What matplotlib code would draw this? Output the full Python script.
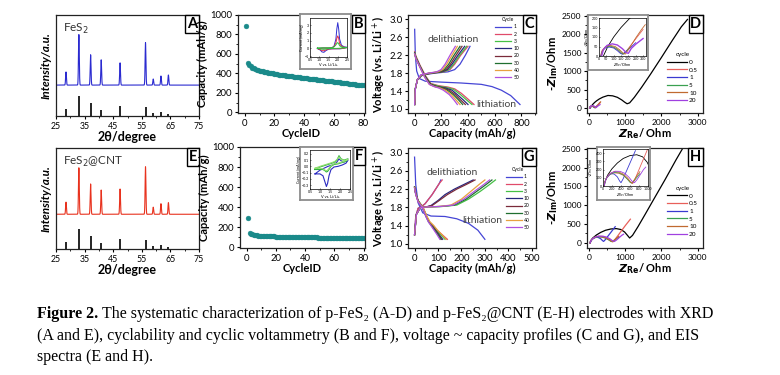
import numpy as np
import matplotlib
matplotlib.use("Agg")
import matplotlib.pyplot as plt
from matplotlib.ticker import MultipleLocator

# ---------------- data ----------------
# XRD (A, E): peak positions (2theta), relative heights (% of axes height)
xrd_peaks = [28.5, 33.0, 37.1, 40.8, 47.4, 56.3, 59.0, 61.7, 64.3]
fes2_int = [13, 50, 30, 25, 22, 42, 6, 9, 10]
cnt_int = [12, 46, 30, 24, 25, 47, 7, 10.5, 11.5]
ref_int = [7, 20, 13, 5.5, 10, 9.3, 2.8, 3.8, 2.0]
fes2_base = 30.6
cnt_base = 34.4
xrd_ticks = [25, 35, 45, 55, 65, 75]

# Cycling (B, F)
b_cap = [885, 505, 488, 472, 458, 450, 443, 437, 432, 428,
         424, 420, 417, 414, 411, 408, 405, 402, 399, 396,
         393, 391, 388, 386, 384, 381, 379, 377, 375, 372,
         370, 368, 366, 364, 362, 360, 358, 356, 354, 352,
         350, 348, 346, 345, 343, 341, 339, 337, 335, 333,
         331, 329, 328, 326, 324, 322, 320, 319, 317, 315,
         313, 311, 309, 307, 305, 303, 301, 299, 297, 295,
         293, 291, 289, 287, 285, 283, 281, 279, 277, 275]
f_cap = [290, 140, 132, 127, 123, 120, 118, 116, 114, 113,
         112, 111, 110, 109, 109, 108, 108, 107, 107, 106,
         106, 105, 105, 105, 104, 104, 104, 103, 103, 103,
         102, 102, 102, 101, 101, 101, 100, 100, 100, 99,
         99, 99, 98, 98, 98, 97, 97, 97, 96, 96,
         96, 95, 95, 95, 94, 94, 94, 93, 93, 93,
         92, 92, 92, 91, 91, 91, 90, 90, 90, 90,
         89, 89, 89, 89, 88, 88, 88, 88, 87, 87]
cycle_ids = list(range(1, 81))

# CV insets (B, F): voltage, current
b_cv_v = [0.9, 1.2, 1.5, 1.7, 1.8, 1.9, 1.95, 2.0, 2.05, 2.1, 2.2, 2.35, 2.5,
          2.3, 2.1, 1.9, 1.7, 1.5, 1.35, 1.25, 1.15, 1.05, 0.95, 0.9]
b_cv_i = [[0.0, 0.05, 0.05, 0.1, 0.3, 1.2, 2.5, 3.3, 2.5, 1.2, 0.4, 0.2, 0.15,
           0.0, -0.05, -0.05, -0.05, -0.1, -0.3, -0.5, -0.45, -0.2, -0.1, 0.0],
          [0.0, 0.05, 0.05, 0.1, 0.25, 0.7, 1.3, 1.6, 1.3, 0.6, 0.3, 0.15, 0.12,
           0.0, -0.03, -0.04, -0.05, -0.08, -0.2, -0.3, -0.28, -0.15, -0.08, 0.0],
          [0.05, 0.08, 0.08, 0.1, 0.2, 0.45, 0.65, 0.75, 0.6, 0.35, 0.2, 0.12, 0.1,
           0.05, 0.02, 0.0, 0.0, -0.02, -0.08, -0.12, -0.1, -0.05, 0.0, 0.05]]
b_cv_colors = ["#2f2fd0", "#e0304a", "#30c040"]

f_cv_v = [0.75, 1.0, 1.2, 1.4, 1.6, 1.75, 1.85, 1.95, 2.05, 2.2, 2.3, 2.4,
          2.3, 2.1, 1.9, 1.7, 1.55, 1.45, 1.38, 1.32, 1.25, 1.15, 1.0, 0.75]
f_cv_i = [[-0.12, -0.06, -0.03, 0.0, 0.02, 0.04, 0.07, 0.12, 0.09, 0.07, 0.08, 0.1,
           0.05, 0.02, 0.0, -0.01, -0.05, -0.15, -0.27, -0.32, -0.25, -0.15, -0.12, -0.12],
          [-0.05, -0.01, 0.01, 0.03, 0.05, 0.07, 0.1, 0.17, 0.12, 0.1, 0.11, 0.12,
           0.08, 0.06, 0.04, 0.03, 0.0, -0.05, -0.08, -0.09, -0.07, -0.05, -0.05, -0.05],
          [-0.03, 0.0, 0.02, 0.04, 0.06, 0.08, 0.11, 0.15, 0.11, 0.1, 0.1, 0.11,
           0.09, 0.07, 0.05, 0.04, 0.01, -0.03, -0.06, -0.07, -0.06, -0.04, -0.03, -0.03]]
f_cv_colors = ["#2a2ac0", "#30b040", "#90e070"]

# Voltage profiles (C, G)
cyc_labels = ["1", "2", "3", "10", "20", "30", "40", "50"]
cyc_colors = ["#4545d5", "#e04a6a", "#45c045", "#26267f", "#7a2a3a",
              "#1f6f2f", "#e8a040", "#b050e0"]

c_dis_cap = [[0, 5, 15, 35, 80, 200, 350, 500, 580, 650, 720, 790],
             [0, 10, 40, 80, 120, 180, 250, 300, 350, 400, 445],
             [0, 10, 40, 80, 120, 180, 240, 290, 340, 390, 430],
             [0, 10, 40, 80, 120, 170, 230, 280, 320, 365, 400],
             [0, 10, 40, 80, 120, 160, 215, 260, 305, 345, 380],
             [0, 10, 40, 80, 115, 155, 200, 245, 290, 330, 360],
             [0, 10, 40, 75, 110, 150, 190, 230, 275, 310, 340],
             [0, 10, 40, 75, 110, 145, 180, 215, 260, 295, 320]]
c_dis_v = [[2.78, 2.2, 1.85, 1.68, 1.62, 1.6, 1.58, 1.55, 1.5, 1.42, 1.3, 1.1],
           [2.28, 2.18, 1.98, 1.75, 1.57, 1.52, 1.49, 1.45, 1.35, 1.22, 1.1],
           [2.26, 2.16, 1.96, 1.73, 1.56, 1.51, 1.48, 1.44, 1.33, 1.2, 1.1],
           [2.25, 2.14, 1.95, 1.72, 1.55, 1.5, 1.47, 1.42, 1.32, 1.2, 1.1],
           [2.24, 2.13, 1.94, 1.71, 1.55, 1.5, 1.47, 1.42, 1.32, 1.2, 1.1],
           [2.24, 2.13, 1.94, 1.71, 1.55, 1.5, 1.47, 1.42, 1.32, 1.2, 1.1],
           [2.23, 2.12, 1.93, 1.71, 1.55, 1.5, 1.47, 1.42, 1.32, 1.2, 1.1],
           [2.23, 2.12, 1.93, 1.71, 1.55, 1.5, 1.47, 1.42, 1.32, 1.2, 1.1]]
c_chg_cap = [[0, 5, 20, 60, 150, 250, 300, 340, 380, 415],
             [0, 5, 20, 55, 130, 220, 265, 300, 345, 400],
             [0, 5, 20, 55, 125, 215, 258, 292, 337, 390],
             [0, 5, 20, 50, 120, 205, 245, 280, 325, 375],
             [0, 5, 20, 50, 115, 195, 235, 268, 310, 355],
             [0, 5, 20, 50, 110, 185, 222, 255, 295, 340],
             [0, 5, 20, 48, 105, 175, 210, 240, 280, 320],
             [0, 5, 20, 45, 100, 165, 198, 228, 265, 305]]
c_chg_v = [1.1, 1.45, 1.65, 1.76, 1.8, 1.83, 1.88, 2.0, 2.2, 2.4]

g_dis_cap = [[0, 5, 15, 35, 70, 130, 180, 230, 270, 300],
             [0, 5, 15, 36, 52, 64, 80, 96, 118, 140],
             [0, 5, 15, 36, 52, 64, 78, 93, 112, 130],
             [0, 5, 15, 34, 50, 62, 76, 90, 105, 120],
             [0, 5, 15, 34, 50, 61, 74, 88, 102, 115],
             [0, 5, 15, 33, 49, 60, 72, 86, 100, 112],
             [0, 5, 15, 36, 53, 66, 82, 98, 117, 135],
             [0, 5, 15, 33, 48, 59, 70, 83, 96, 108]]
g_dis_v = [[2.9, 2.3, 1.9, 1.68, 1.61, 1.6, 1.55, 1.45, 1.3, 1.1],
           [2.25, 2.1, 1.95, 1.8, 1.6, 1.48, 1.4, 1.3, 1.2, 1.1],
           [2.25, 2.1, 1.95, 1.8, 1.6, 1.48, 1.4, 1.3, 1.2, 1.1],
           [2.24, 2.1, 1.94, 1.8, 1.6, 1.48, 1.4, 1.3, 1.2, 1.1],
           [2.24, 2.1, 1.94, 1.8, 1.6, 1.48, 1.4, 1.3, 1.2, 1.1],
           [2.23, 2.09, 1.93, 1.8, 1.6, 1.48, 1.4, 1.3, 1.2, 1.1],
           [2.23, 2.09, 1.93, 1.8, 1.6, 1.48, 1.4, 1.3, 1.2, 1.1],
           [2.22, 2.08, 1.92, 1.8, 1.6, 1.48, 1.4, 1.3, 1.2, 1.1]]
g_chg_cap = [[0, 5, 15, 30, 45, 60, 75, 90, 105, 112],
             [0, 5, 15, 30, 45, 60, 75, 90, 105, 118],
             [0, 8, 25, 60, 120, 180, 230, 280, 320, 345],
             [0, 8, 25, 50, 70, 100, 130, 170, 210, 250],
             [0, 8, 25, 50, 75, 105, 140, 180, 220, 258],
             [0, 8, 25, 60, 115, 170, 220, 265, 305, 330],
             [0, 8, 25, 55, 105, 155, 200, 240, 275, 300],
             [0, 8, 25, 58, 110, 165, 210, 255, 295, 320]]
g_chg_v = [[1.2, 1.6, 1.78, 1.82, 1.88, 1.98, 2.08, 2.2, 2.32, 2.4],
           [1.2, 1.6, 1.78, 1.82, 1.88, 1.98, 2.08, 2.2, 2.32, 2.4],
           [1.2, 1.65, 1.8, 1.81, 1.82, 1.85, 1.98, 2.15, 2.3, 2.4],
           [1.2, 1.65, 1.8, 1.81, 1.84, 1.95, 2.08, 2.2, 2.3, 2.4],
           [1.2, 1.65, 1.8, 1.81, 1.84, 1.95, 2.08, 2.2, 2.3, 2.4],
           [1.2, 1.65, 1.8, 1.81, 1.82, 1.85, 1.98, 2.15, 2.3, 2.4],
           [1.2, 1.65, 1.8, 1.81, 1.82, 1.85, 1.98, 2.15, 2.3, 2.4],
           [1.2, 1.65, 1.8, 1.81, 1.82, 1.85, 1.98, 2.15, 2.3, 2.4]]

# EIS (D, H)
eis_labels = ["0", "0.5", "1", "5", "10", "20"]
eis_colors = ["#000000", "#e8605a", "#3a3ad0", "#3aa050", "#c06a30", "#a040e0"]
d_zre = [[30, 60, 100, 150, 205, 280, 380, 520, 650, 780, 900, 980, 1050, 1120, 1250, 1450, 1700, 2000, 2300, 2550, 2720],
         [10, 20, 40, 70, 100, 130, 150, 165, 190, 230, 270, 300],
         [12, 22, 40, 70, 100, 125, 145, 160, 185, 215, 250],
         [14, 25, 45, 75, 105, 135, 155, 170, 190, 210],
         [15, 25, 45, 75, 110, 140, 165, 180, 210, 250, 290, 315],
         [18, 30, 55, 90, 125, 160, 185, 200, 220, 250, 280, 300]]
d_zim = [[0, 50, 100, 150, 195, 245, 295, 340, 330, 290, 220, 160, 115, 140, 290, 560, 920, 1370, 1830, 2200, 2400],
         [0, 28, 45, 50, 45, 30, 15, 10, 30, 70, 110, 140],
         [0, 25, 42, 47, 42, 28, 14, 9, 25, 45, 70],
         [0, 28, 46, 52, 46, 30, 15, 10, 28, 45],
         [0, 30, 50, 56, 50, 33, 15, 10, 45, 95, 140, 165],
         [0, 34, 56, 64, 58, 38, 18, 14, 40, 62, 80, 92]]
h_zre = [[30, 50, 100, 200, 320, 450, 600, 750, 880, 980, 1060, 1120, 1200, 1350, 1550, 1800, 2100, 2400, 2600],
         [25, 40, 80, 150, 250, 350, 450, 550, 620, 660, 700, 800, 900, 1000, 1140],
         [25, 40, 70, 120, 180, 250, 320, 370, 400, 450, 520, 600, 680, 720],
         [25, 40, 80, 150, 250, 350, 450, 540, 600, 640, 700, 760, 820],
         [25, 40, 80, 150, 250, 350, 450, 550, 610, 650, 700, 760, 820],
         [25, 45, 90, 170, 270, 380, 480, 580, 650, 700, 760, 830, 900, 950]]
h_zim = [[0, 60, 130, 210, 280, 335, 370, 380, 355, 290, 200, 130, 200, 430, 760, 1180, 1680, 2200, 2530],
         [0, 50, 100, 140, 160, 155, 130, 80, 40, 30, 70, 200, 330, 460, 630],
         [0, 45, 90, 130, 150, 145, 110, 60, 40, 90, 180, 280, 380, 430],
         [0, 45, 95, 140, 165, 160, 135, 85, 45, 35, 70, 110, 150],
         [0, 48, 100, 150, 175, 170, 145, 95, 50, 38, 80, 130, 175],
         [0, 50, 105, 155, 180, 178, 155, 105, 55, 40, 80, 140, 200, 230]]

caption_bold = "Figure 2."
caption_l1 = "The systematic characterization of p-FeS\u2082 (A-D) and p-FeS\u2082@CNT (E-H) electrodes with XRD"
caption_l2 = "(A and E), cyclability and cyclic voltammetry (B and F), voltage ~ capacity profiles (C and G), and EIS"
caption_l3 = "spectra (E and H)."

# ---------------- figure ----------------
plt.rcParams['font.family'] = ['Lato', 'DejaVu Sans']
W, H = 780, 375
fig = plt.figure(figsize=(W / 100, H / 100), dpi=100)
TEAL = "#1a8a8a"
LBL = dict(fontsize=8, fontweight='bold')


def axes_px(l, t, r, b):
    return fig.add_axes([l / W, 1 - b / H, (r - l) / W, (b - t) / H])


def style(ax, fs=6.3):
    ax.tick_params(which='major', direction='out', length=2.5, width=0.8, labelsize=fs, pad=1.5)
    ax.tick_params(which='minor', direction='out', length=1.5, width=0.6)
    for s in ax.spines.values():
        s.set_linewidth(0.9)
        s.set_color('#222222')


def letter(ax, s):
    ax.text(0.985, 0.978, s, transform=ax.transAxes, ha='right', va='top',
            fontsize=10.5, fontweight='bold', zorder=20,
            bbox=dict(boxstyle='square,pad=0.12', fc='white', ec='black', lw=1.0))


def inset(box, inner, fs=2.6):
    bx = axes_px(*box)
    bx.set_xticks([])
    bx.set_yticks([])
    for s in bx.spines.values():
        s.set_color('#8c8c8c')
        s.set_linewidth(1.3)
    ia = axes_px(*inner)
    ia.tick_params(direction='in', length=1, width=0.4, labelsize=fs, pad=0.6)
    for s in ia.spines.values():
        s.set_linewidth(0.5)
    return ia


# ---- XRD panels ----
def xrd(ax, base, ints, color, name, let):
    x = np.arange(25, 75.001, 0.02)
    y = np.full_like(x, base)
    for p, I in zip(xrd_peaks, ints):
        y = y + I * np.exp(-((x - p) / 0.2) ** 2)
    ax.plot(x, y, color=color, lw=0.8)
    ax.vlines(xrd_peaks, 0, ref_int, color='black', lw=1.2)
    ax.set_xlim(25, 75)
    ax.set_ylim(0, 100)
    ax.set_yticks([])
    ax.set_xticks(xrd_ticks)
    ax.xaxis.set_minor_locator(MultipleLocator(5))
    style(ax)
    ax.set_ylabel("Intensity/a.u.", fontsize=8.5, fontweight='bold', style='italic', labelpad=3)
    ax.set_xlabel("2\u03b8/degree", fontsize=9, fontweight='bold', labelpad=0.5)
    ax.text(0.05, 0.93, name, transform=ax.transAxes, ha='left', va='top', fontsize=8.5, color='#333333')
    letter(ax, let)


axA = axes_px(56, 15, 199, 116)
xrd(axA, fes2_base, fes2_int, "#2b2bd0", "FeS$_2$", "A")
axE = axes_px(56, 148, 199, 249)
xrd(axE, cnt_base, cnt_int, "#e8321e", "FeS$_2$@CNT", "E")


# ---- cycling panels ----
def cycling(ax, cap, let):
    ax.plot(cycle_ids, cap, 'o', ms=3.5, color=TEAL, mec=TEAL, mew=0.3)
    ax.set_xlim(-4.5, 81)
    ax.set_ylim(-8, 1000)
    ax.set_xticks([0, 20, 40, 60, 80])
    ax.set_yticks([0, 200, 400, 600, 800, 1000])
    ax.xaxis.set_minor_locator(MultipleLocator(10))
    ax.yaxis.set_minor_locator(MultipleLocator(100))
    style(ax, 6.8)
    ax.set_ylabel("Capacity (mAh/g)", labelpad=1.5, **LBL)
    ax.set_xlabel("CycleID", labelpad=0.5, **LBL)
    letter(ax, let)


axB = axes_px(238, 15, 365, 113)
cycling(axB, b_cap, "B")
axF = axes_px(240, 147, 365, 248)
cycling(axF, f_cap, "F")

ib = inset((300, 14, 351, 69), (310, 18, 347, 57))
for cur, col in zip(b_cv_i, b_cv_colors):
    ib.plot(b_cv_v, cur, color=col, lw=0.7)
ib.set_xlim(0.5, 2.5)
ib.set_ylim(-1.1, 3.9)
ib.set_xticks([0.5, 1.0, 1.5, 2.0, 2.5])
ib.set_yticks([-1, 0, 1, 2, 3])
ib.set_xlabel("V vs. Li/Li+", fontsize=2.8, labelpad=0.5)
ib.set_ylabel("Current (mA/mg)", fontsize=2.6, labelpad=0.5)

iff = inset((300, 147, 353, 200), (310, 150, 350, 189))
for cur, col in zip(f_cv_i, f_cv_colors):
    iff.plot(f_cv_v, cur, color=col, lw=0.8)
iff.set_xlim(0.5, 2.5)
iff.set_ylim(-0.36, 0.26)
iff.set_xticks([0.5, 1.0, 1.5, 2.0, 2.5])
iff.set_yticks([-0.3, -0.2, -0.1, 0.0, 0.1, 0.2])
iff.set_xlabel("V vs. Li/Li+", fontsize=2.8, labelpad=0.5)
iff.set_ylabel("Current (mA/mg)", fontsize=2.6, labelpad=0.5)


# ---- voltage profiles ----
def profiles(ax, dcap, dv, ccap, cv, xlim, xticks, xminor, let, dtxt, ltxt, leg_anchor):
    for i, (lab, col) in enumerate(zip(cyc_labels, cyc_colors)):
        ax.plot(dcap[i], dv[i], color=col, lw=0.9, label=lab)
        cvv = cv[i] if isinstance(cv[0], list) else cv
        ax.plot(ccap[i], cvv, color=col, lw=0.9)
    ax.set_xlim(*xlim)
    ax.set_ylim(0.91, 3.1)
    ax.set_xticks(xticks)
    ax.set_yticks([1.0, 1.4, 1.8, 2.2, 2.6, 3.0])
    ax.xaxis.set_minor_locator(MultipleLocator(xminor))
    ax.yaxis.set_minor_locator(MultipleLocator(0.2))
    style(ax, 6.8)
    ax.set_ylabel("Voltage (vs. Li/Li$^+$)", labelpad=1.5, **LBL)
    ax.set_xlabel("Capacity (mAh/g)", labelpad=0.5, **LBL)
    ax.text(dtxt[0], dtxt[1], "delithiation", fontsize=7.5, color='#444444', ha='center', va='center')
    ax.text(ltxt[0], ltxt[1], "lithiation", fontsize=7.5, color='#444444', ha='center', va='center')
    ax.legend(loc='upper left', bbox_to_anchor=leg_anchor, frameon=False, fontsize=3.6,
              title="Cycle", title_fontsize=3.6, handlelength=3.2, handletextpad=0.4,
              labelspacing=0.45, borderpad=0.1)
    letter(ax, let)


axC = axes_px(408, 15, 536, 113)
profiles(axC, c_dis_cap, c_dis_v, c_chg_cap, c_chg_v, (-50, 910), [0, 200, 400, 600, 800], 100,
         "C", (290, 2.56), (615, 1.1), (0.66, 1.01))
axG = axes_px(408, 148, 536, 248)
profiles(axG, g_dis_cap, g_dis_v, g_chg_cap, g_chg_v, (-28, 518), [0, 100, 200, 300, 400, 500], 50,
         "G", (160, 2.56), (290, 1.52), (0.74, 0.84))


# ---- EIS ----
def eis(ax, zre, zim, let, leg_anchor):
    for i, (lab, col) in enumerate(zip(eis_labels, eis_colors)):
        ax.plot(zre[i], zim[i], color=col, lw=0.9, label=lab)
    ax.set_xlim(-60, 3150)
    ax.set_ylim(-135, 2520)
    ax.set_xticks([0, 1000, 2000, 3000])
    ax.set_yticks([0, 500, 1000, 1500, 2000, 2500])
    ax.xaxis.set_minor_locator(MultipleLocator(500))
    ax.yaxis.set_minor_locator(MultipleLocator(250))
    style(ax, 6.0)
    ax.set_ylabel(r"-$\mathbfit{Z}_{\mathbf{Im}}$/Ohm", labelpad=1.5, **LBL)
    ax.set_xlabel(r"$\mathbfit{Z}_{\mathbf{Re}}$/ Ohm", labelpad=0.5, **LBL)
    ax.legend(loc='upper left', bbox_to_anchor=leg_anchor, frameon=False, fontsize=4.6,
              title="cycle", title_fontsize=4.6, handlelength=3.0, handletextpad=0.4,
              labelspacing=0.35, borderpad=0.1)
    letter(ax, let)
    return ax


axD = axes_px(587, 15, 703, 113)
eis(axD, d_zre, d_zim, "D", (0.66, 0.66))
axH = axes_px(587, 148, 703, 248)
eis(axH, h_zre, h_zim, "H", (0.66, 0.66))

idd = inset((588, 15, 648, 70), (599, 18, 646, 56))
for i, col in enumerate(eis_colors):
    idd.plot(d_zre[i], d_zim[i], color=col, lw=0.6 if i < 5 else 1.0)
idd.set_xlim(0, 320)
idd.set_ylim(0, 200)
idd.set_xticks([0, 50, 100, 150, 200, 250, 300])
idd.set_yticks([0, 50, 100, 150, 200])
idd.set_xlabel(r"$Z_{Re}$/Ohm", fontsize=2.8, labelpad=0.5)
idd.set_ylabel(r"-$Z_{Im}$/Ohm", fontsize=2.8, labelpad=0.5)

ih = inset((597, 147, 650, 200), (603, 149, 648, 186))
for i, col in enumerate(eis_colors):
    ih.plot(h_zre[i], h_zim[i], color=col, lw=0.6)
ih.set_xlim(0, 1000)
ih.set_ylim(0, 450)
ih.set_xticks([0, 200, 400, 600, 800, 1000])
ih.set_yticks([0, 100, 200, 300, 400])
ih.set_xlabel(r"$Z_{Re}$/Ohm", fontsize=2.8, labelpad=0.5)
ih.set_ylabel(r"-$Z_{Im}$/Ohm", fontsize=2.8, labelpad=0.5)

# ---- caption ----
serif = ['Liberation Serif', 'DejaVu Serif']
cap_fs = 11.5
renderer = fig.canvas.get_renderer()
t0 = fig.text(37 / W, 1 - 318 / H, caption_bold, fontsize=cap_fs, fontweight='bold',
              family=serif, va='baseline', ha='left')
bb = t0.get_window_extent(renderer)
fig.text((bb.x1 + 3.5) / W, 1 - 318 / H, caption_l1, fontsize=cap_fs, family=serif,
         va='baseline', ha='left')
fig.text(37 / W, 1 - 340 / H, caption_l2, fontsize=cap_fs, family=serif, va='baseline', ha='left')
fig.text(37 / W, 1 - 361 / H, caption_l3, fontsize=cap_fs, family=serif, va='baseline', ha='left')

fig.savefig("out.png", dpi=100)
